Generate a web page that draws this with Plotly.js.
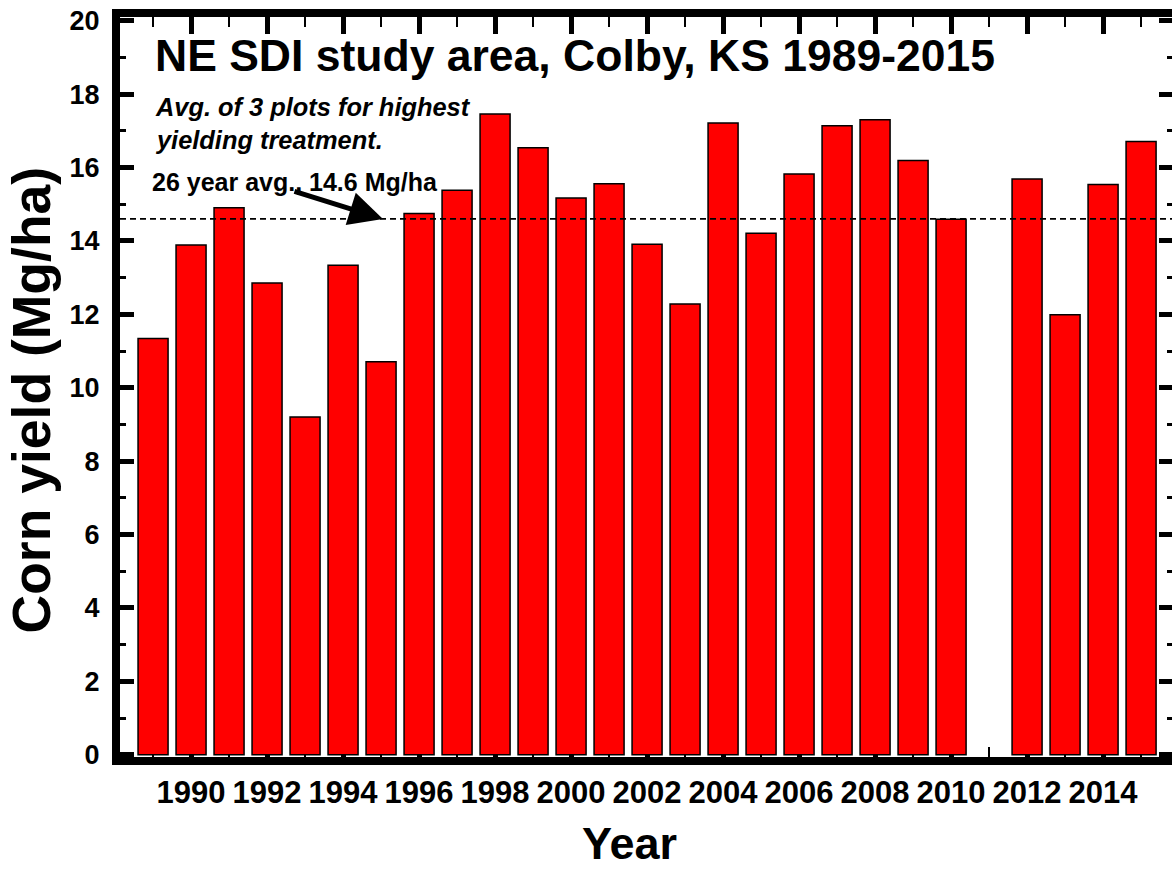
<!DOCTYPE html>
<html>
<head>
<meta charset="utf-8">
<script src="https://cdn.plot.ly/plotly-3.0.1.min.js"></script>
<style>
html,body{margin:0;padding:0;overflow:hidden;background:#fff;width:1172px;height:871px}
#chart{width:1193px;height:871px}
</style>
</head>
<body>
<div id="chart"></div>
<script>
// ---- data ----
const years = [1989,1990,1991,1992,1993,1994,1995,1996,1997,1998,1999,2000,2001,2002,2003,2004,2005,2006,2007,2008,2009,2010,2011,2012,2013,2014,2015];
const yields = [11.34,13.89,14.90,12.85,9.20,13.34,10.71,14.75,15.38,17.46,16.54,15.17,15.56,13.91,12.28,17.21,14.21,15.82,17.14,17.30,16.19,14.59,null,15.69,11.99,15.54,16.71];
const avgYield = 14.6;
const arrowTipYear = 1995.05;
const chartTitle = 'NE SDI study area, Colby, KS 1989-2015';
const noteLine1 = 'Avg. of 3 plots for highest';
const noteLine2 = 'yielding treatment.';
const avgLabel = '26 year avg., 14.6 Mg/ha';
const xTitle = 'Year';
const yTitle = 'Corn yield (Mg/ha)';

const FONT = 'Liberation Sans, Arial, Helvetica, sans-serif';

const trace = {
  type: 'bar',
  x: years,
  y: yields,
  marker: {color: '#ff0000', line: {color: '#000000', width: 1.5}},
  hoverinfo: 'x+y'
};

const layout = {
  width: 1193,
  height: 871,
  margin: {l: 120, r: 20, t: 17, b: 114, pad: 0},
  paper_bgcolor: '#ffffff',
  plot_bgcolor: '#ffffff',
  showlegend: false,
  bargap: 0.21,
  font: {family: FONT, color: '#000'},
  xaxis: {
    range: [1988.13, 2015.84],
    showgrid: false, zeroline: false,
    showline: true, linewidth: 8, linecolor: '#000', mirror: 'ticks',
    ticks: 'inside', ticklen: 17, tickwidth: 5, tickcolor: '#000',
    tickmode: 'linear', tick0: 1990, dtick: 2,
    minor: {ticks: 'inside', ticklen: 10, tickwidth: 2.5, tickcolor: '#000', tickmode: 'linear', tick0: 1989, dtick: 1, showgrid: false},
    tickfont: {family: FONT, size: 31, weight: 'bold', color: '#000'},
    ticklabelstandoff: 1,
    layer: 'below traces'
  },
  yaxis: {
    range: [-0.06, 20.1],
    showgrid: false, zeroline: false,
    showline: true, linewidth: 8, linecolor: '#000', mirror: 'ticks',
    ticks: 'inside', ticklen: 14, tickwidth: 5, tickcolor: '#000',
    tickmode: 'linear', tick0: 0, dtick: 2,
    minor: {ticks: 'inside', ticklen: 6, tickwidth: 3, tickcolor: '#000', tickmode: 'linear', tick0: 0, dtick: 1, showgrid: false},
    tickfont: {family: FONT, size: 27, weight: 'bold', color: '#000'},
    ticklabelstandoff: 7,
    layer: 'below traces'
  },
  shapes: [{
    type: 'line', xref: 'paper', x0: 0, x1: 1, yref: 'y', y0: avgYield, y1: avgYield,
    line: {color: '#000', width: 1.6, dash: '6px,4px'}, layer: 'above'
  }],
  annotations: [
    {text: '<b>' + chartTitle + '</b>', xref: 'paper', yref: 'paper', x: 0, y: 1, xanchor: 'left', yanchor: 'top',
     xshift: 33, yshift: -12, showarrow: false, font: {family: FONT, size: 44.5, color: '#000'}},
    {text: '<b><i>' + noteLine1 + '</i></b>', xref: 'paper', yref: 'paper', x: 0, y: 1, xanchor: 'left', yanchor: 'top',
     xshift: 33, yshift: -74, showarrow: false, font: {family: FONT, size: 25.4, color: '#000'}},
    {text: '<b><i>' + noteLine2 + '</i></b>', xref: 'paper', yref: 'paper', x: 0, y: 1, xanchor: 'left', yanchor: 'top',
     xshift: 33, yshift: -107, showarrow: false, font: {family: FONT, size: 25.4, color: '#000'}},
    {text: '<b>' + avgLabel + '</b>', xref: 'paper', yref: 'paper', x: 0, y: 1, xanchor: 'left', yanchor: 'top',
     xshift: 30, yshift: -149, showarrow: false, font: {family: FONT, size: 25, color: '#000'}},
    {text: '', xref: 'x', yref: 'y', x: arrowTipYear, y: avgYield, ax: -90, ay: -28,
     showarrow: true, arrowhead: 2, arrowsize: 1.35, arrowwidth: 5, arrowcolor: '#000'},
    {text: '<b>' + yTitle + '</b>', xref: 'paper', yref: 'paper', x: 0, y: 0.4818, xanchor: 'center', yanchor: 'middle',
     xshift: -89, textangle: -90, showarrow: false, font: {family: FONT, size: 53.5, color: '#000'}},
    {text: '<b>' + xTitle + '</b>', xref: 'paper', yref: 'paper', x: 0.4834, y: 0, xanchor: 'center', yanchor: 'bottom',
     yshift: -114, showarrow: false, font: {family: FONT, size: 45, color: '#000'}}
  ]
};

Plotly.newPlot('chart', [trace], layout, {displayModeBar: false, staticPlot: true});
</script>
</body>
</html>
